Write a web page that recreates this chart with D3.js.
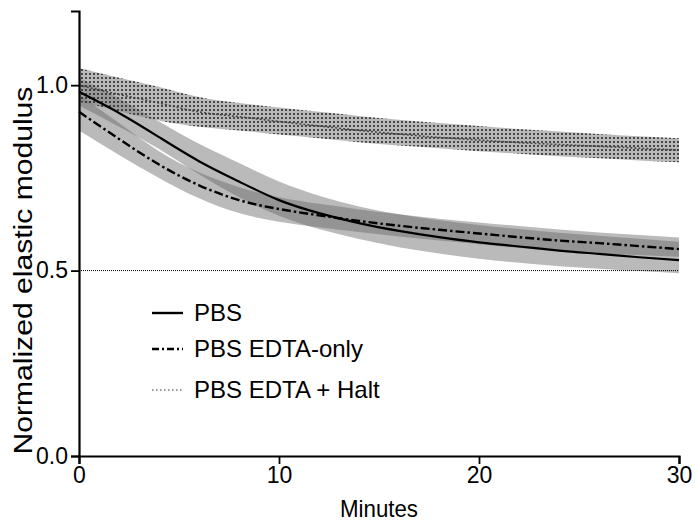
<!DOCTYPE html>
<html>
<head>
<meta charset="utf-8">
<script src="https://cdnjs.cloudflare.com/ajax/libs/d3/7.8.5/d3.min.js"></script>
<style>
    body { margin: 0; background: #fff; }
    text { font-family: "Liberation Sans", Arial, sans-serif; fill: #000; }
</style>
</head>
<body>
<script>
//chart data
var minutes = [0, 2, 4, 6, 8, 10, 12, 14, 16, 18, 20, 22, 24, 26, 28, 30];

//PBS fit and its band
var pbsFit   = [0.982, 0.925, 0.860, 0.795, 0.740, 0.690, 0.655, 0.628, 0.607, 0.590, 0.576, 0.565, 0.554, 0.545, 0.536, 0.528];
var pbsUpper = [1.020, 0.965, 0.902, 0.842, 0.790, 0.740, 0.702, 0.673, 0.652, 0.636, 0.623, 0.612, 0.602, 0.594, 0.586, 0.578];
var pbsLower = [0.945, 0.888, 0.828, 0.760, 0.698, 0.648, 0.612, 0.585, 0.563, 0.546, 0.532, 0.521, 0.512, 0.505, 0.499, 0.493];

//PBS EDTA-only fit and its band
var edtaFit   = [0.928, 0.855, 0.786, 0.730, 0.690, 0.666, 0.649, 0.634, 0.621, 0.610, 0.600, 0.590, 0.581, 0.574, 0.566, 0.558];
var edtaUpper = [0.975, 0.898, 0.822, 0.765, 0.725, 0.698, 0.680, 0.665, 0.652, 0.640, 0.630, 0.620, 0.611, 0.603, 0.596, 0.589];
var edtaLower = [0.878, 0.812, 0.750, 0.695, 0.655, 0.632, 0.617, 0.604, 0.592, 0.581, 0.571, 0.561, 0.553, 0.547, 0.542, 0.537];

//PBS EDTA + Halt fit and its band
var haltFit   = [1.000, 0.975, 0.952, 0.928, 0.915, 0.902, 0.890, 0.878, 0.868, 0.859, 0.852, 0.845, 0.840, 0.835, 0.830, 0.825];
var haltUpper = [1.046, 1.020, 0.995, 0.968, 0.952, 0.940, 0.928, 0.917, 0.907, 0.898, 0.890, 0.882, 0.875, 0.868, 0.862, 0.857];
var haltLower = [0.955, 0.930, 0.905, 0.888, 0.878, 0.867, 0.857, 0.846, 0.837, 0.830, 0.822, 0.815, 0.808, 0.803, 0.797, 0.792];

var xTicks = [0, 10, 20, 30];
var yTicks = [0.0, 0.5, 1.0];
var legendLabels = ["PBS", "PBS EDTA-only", "PBS EDTA + Halt"];
var refValue = 0.5;

(function(){

    var width = 695, height = 522;
    var margin = {left: 79, right: 16, top: 11, bottom: 66};

    var svg = d3.select("body")
        .append("svg")
        .attr("width", width)
        .attr("height", height);

    //scales
    var x = d3.scaleLinear().domain([0, 30]).range([margin.left, width - margin.right]);
    var y = d3.scaleLinear().domain([0, 1.2]).range([height - margin.bottom, margin.top]);

    //dot pattern for the halt band
    var defs = svg.append("defs");
    var pat = defs.append("pattern")
        .attr("id", "dots")
        .attr("patternUnits", "userSpaceOnUse")
        .attr("width", 4)
        .attr("height", 4);
    pat.append("rect")
        .attr("width", 4).attr("height", 4)
        .attr("fill", "#808080")
        .attr("fill-opacity", 0.55);
    pat.append("circle")
        .attr("cx", 2).attr("cy", 2).attr("r", 1)
        .attr("fill", "#222");

    var area = function(upper, lower){
        return d3.area()
            .x(function(d, i){ return x(minutes[i]); })
            .y0(function(d, i){ return y(lower[i]); })
            .y1(function(d, i){ return y(upper[i]); })
            .curve(d3.curveNatural)(minutes);
    };
    var line = function(vals){
        return d3.line()
            .x(function(d, i){ return x(minutes[i]); })
            .y(function(d){ return y(d); })
            .curve(d3.curveNatural)(vals);
    };

    //gray bands
    svg.append("path")
        .attr("d", area(pbsUpper, pbsLower))
        .attr("fill", "#666")
        .attr("fill-opacity", 0.45);
    svg.append("path")
        .attr("d", area(edtaUpper, edtaLower))
        .attr("fill", "#666")
        .attr("fill-opacity", 0.45);

    //reference line at 0.5
    svg.append("line")
        .attr("x1", x(0)).attr("x2", x(30))
        .attr("y1", y(refValue)).attr("y2", y(refValue))
        .attr("stroke", "#000")
        .attr("stroke-width", 1)
        .attr("stroke-dasharray", "1,1");

    //halt band with dots
    svg.append("path")
        .attr("d", area(haltUpper, haltLower))
        .attr("fill", "url(#dots)");

    //fit lines
    svg.append("path")
        .attr("d", line(haltFit))
        .attr("fill", "none")
        .attr("stroke", "#444")
        .attr("stroke-width", 1.6)
        .attr("stroke-dasharray", "2,2");
    svg.append("path")
        .attr("d", line(edtaFit))
        .attr("fill", "none")
        .attr("stroke", "#000")
        .attr("stroke-width", 2.4)
        .attr("stroke-dasharray", "9,3,2.5,3");
    svg.append("path")
        .attr("d", line(pbsFit))
        .attr("fill", "none")
        .attr("stroke", "#000")
        .attr("stroke-width", 2.2);

    //x axis
    var xAxis = svg.append("g")
        .attr("transform", "translate(0," + y(0) + ")");
    xAxis.call(d3.axisBottom(x).tickValues(d3.range(0, 31, 1)).tickSize(5).tickFormat(""));
    xAxis.call(d3.axisBottom(x).tickValues(xTicks).tickSize(8).tickFormat(d3.format("d")).tickPadding(3));
    xAxis.selectAll("path.domain").attr("stroke-width", 2.2);
    xAxis.selectAll("line").attr("stroke-width", 1.8);
    xAxis.selectAll("text").style("font-size", "23px").style("font-family", "Liberation Sans, Arial, sans-serif").attr("fill", "#000");

    //y axis
    var yAxis = svg.append("g")
        .attr("transform", "translate(" + x(0) + ",0)");
    yAxis.call(d3.axisLeft(y).tickValues(d3.range(0, 25, 1).map(function(d){ return d * 0.05; })).tickSize(5).tickFormat(""));
    yAxis.call(d3.axisLeft(y).tickValues(yTicks).tickSize(8).tickFormat(d3.format(".1f")).tickPadding(3));
    yAxis.selectAll("path.domain").attr("stroke-width", 2.2);
    yAxis.selectAll("line").attr("stroke-width", 1.8);
    yAxis.selectAll("text").style("font-size", "23px").style("font-family", "Liberation Sans, Arial, sans-serif").attr("fill", "#000");

    //axis titles
    svg.append("text")
        .attr("x", x(15))
        .attr("y", 517)
        .attr("text-anchor", "middle")
        .attr("textLength", 78)
        .attr("lengthAdjust", "spacingAndGlyphs")
        .style("font-size", "24px")
        .text("Minutes");
    svg.append("text")
        .attr("transform", "translate(32," + y(0.5) + ") rotate(-90)")
        .attr("text-anchor", "middle")
        .attr("textLength", 368)
        .attr("lengthAdjust", "spacingAndGlyphs")
        .style("font-size", "25px")
        .text("Normalized elastic modulus");

    //legend
    var legendY = [313, 349, 390];
    var legendStyle = [
        {stroke: "#000", width: 2.4, dash: null},
        {stroke: "#000", width: 2.4, dash: "7,3,2,3"},
        {stroke: "#777", width: 1.4, dash: "1.5,2.5"}
    ];
    legendLabels.forEach(function(label, i){
        svg.append("line")
            .attr("x1", 152).attr("x2", 183)
            .attr("y1", legendY[i]).attr("y2", legendY[i])
            .attr("stroke", legendStyle[i].stroke)
            .attr("stroke-width", legendStyle[i].width)
            .attr("stroke-dasharray", legendStyle[i].dash);
        svg.append("text")
            .attr("x", 194)
            .attr("y", legendY[i] + 8)
            .style("font-size", "24px")
            .text(label);
    });
})();
</script>
</body>
</html>
